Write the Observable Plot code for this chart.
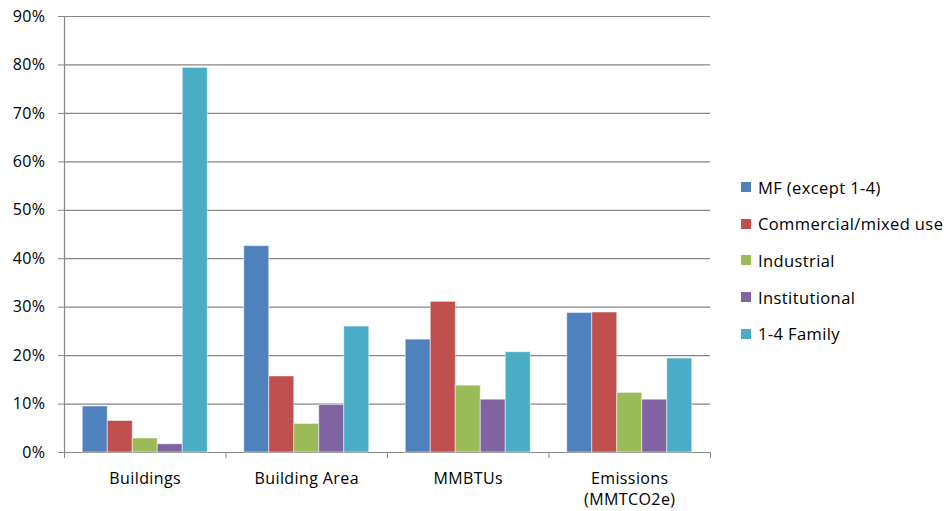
<!DOCTYPE html>
<html>
<head>
<meta charset="utf-8">
<script src="https://cdn.jsdelivr.net/npm/d3@7"></script>
<script src="https://cdn.jsdelivr.net/npm/@observablehq/plot@0.6"></script>
<style>
  html, body { margin: 0; padding: 0; background: #fff; }
  #wrap { position: relative; width: 951px; height: 511px; font-family: "Open Sans", sans-serif; }
  #legend { position: absolute; left: 741px; top: 169px; font-size: 16.5px; color: #000; letter-spacing: 0.4px; }
  .item { display: flex; align-items: center; height: 36.6px; white-space: nowrap; }
  .sw { width: 10px; height: 10px; margin-right: 7px; flex: none; }
  #chart svg text { letter-spacing: 0.4px; }
</style>
</head>
<body>
<div id="wrap"><div id="chart"></div><div id="legend"></div></div>
<script>
const categories = ["Buildings", "Building Area", "MMBTUs", "Emissions\n(MMTCO2e)"];
const series = ["MF (except 1-4)", "Commercial/mixed use", "Industrial", "Institutional", "1-4 Family"];
const colors = ["#4F81BD", "#C0504D", "#9BBB59", "#8064A2", "#4BACC6"];
const buildings = [9.5, 6.5, 2.9, 1.7, 79.4];
const buildingArea = [42.6, 15.7, 5.9, 9.8, 26.0];
const mmbtus = [23.3, 31.1, 13.8, 10.9, 20.7];
const emissions = [28.8, 28.9, 12.3, 10.9, 19.4];
const yTicks = [0, 10, 20, 30, 40, 50, 60, 70, 80, 90];

const valuesByCategory = [buildings, buildingArea, mmbtus, emissions];
const barW = 25 / 161.5;
const pad = (1 - series.length * barW) / 2;
const rows = [];
valuesByCategory.forEach((vals, i) => {
  vals.forEach((v, j) => {
    const x1 = i + pad + j * barW;
    rows.push({category: categories[i], series: series[j], value: v, x1, x2: x1 + barW});
  });
});

const chart = Plot.plot({
  width: 951,
  height: 511,
  marginLeft: 64,
  marginRight: 241,
  marginTop: 16,
  marginBottom: 59,
  style: {fontFamily: "'Open Sans', sans-serif", fontSize: "16px", color: "#000", background: "#fff"},
  x: {type: "linear", domain: [0, categories.length], axis: null},
  y: {domain: [0, 90], axis: null},
  color: {domain: series, range: colors},
  marks: [
    Plot.ruleY(yTicks, {stroke: "#868686", strokeWidth: 1.2}),
    Plot.ruleX([0], {stroke: "#868686", strokeWidth: 1.2}),
    Plot.axisY({ticks: yTicks, label: null, tickSize: 6, tickPadding: 13, tickFormat: d => d + "%", stroke: "#868686", fontSize: 16, fill: "#000"}),
    Plot.axisX({ticks: d3.range(0, categories.length + 1), label: null, tickSize: 6, tickFormat: () => "", stroke: "#868686"}),
    Plot.axisX({ticks: categories.map((c, i) => i + 0.5), label: null, tickSize: 0, tickPadding: 16, tickFormat: d => categories[Math.floor(d)], fontSize: 16, fill: "#000", lineHeight: 1.35}),
    Plot.rectY(rows, {x1: "x1", x2: "x2", y1: 0, y2: "value", fill: "series", stroke: "white", strokeOpacity: 0.5, strokeWidth: 1})
  ]
});
document.getElementById("chart").appendChild(chart);

const legend = document.getElementById("legend");
series.forEach((s, i) => {
  const item = document.createElement("div");
  item.className = "item";
  const sw = document.createElement("span");
  sw.className = "sw";
  sw.style.background = colors[i];
  const t = document.createElement("span");
  t.textContent = s;
  item.appendChild(sw);
  item.appendChild(t);
  legend.appendChild(item);
});
</script>
</body>
</html>
